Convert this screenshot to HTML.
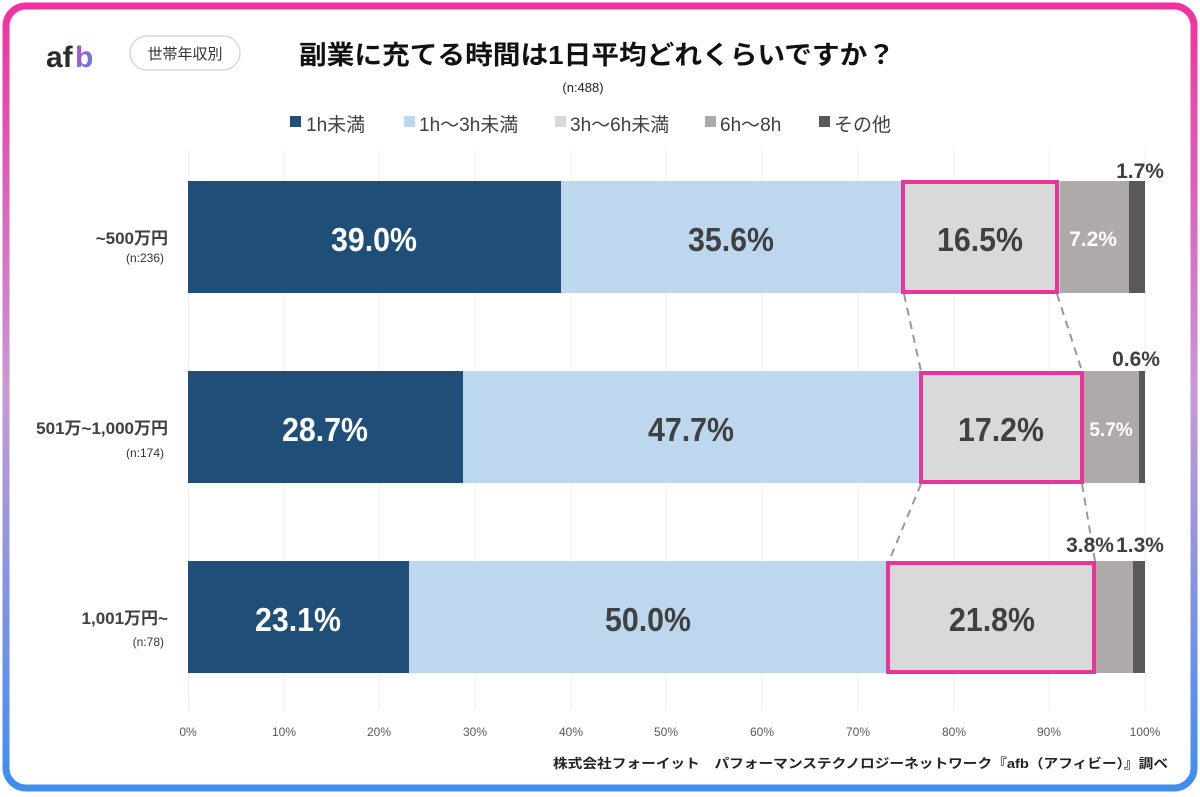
<!DOCTYPE html>
<html><head><meta charset="utf-8"><style>
html,body{margin:0;padding:0;background:#fff;}
svg{display:block;}
text{font-family:"Liberation Sans","Noto Sans CJK JP",sans-serif;}
</style></head><body>
<svg width="1200" height="797" viewBox="0 0 1200 797" xmlns="http://www.w3.org/2000/svg">
<defs>
<linearGradient id="bd" x1="0" y1="0" x2="0" y2="1">
<stop offset="0" stop-color="#f0329e"/><stop offset="0.5" stop-color="#c79ad4"/><stop offset="1" stop-color="#3f8ef0"/>
</linearGradient>
<linearGradient id="lg" x1="0" y1="0" x2="1" y2="1">
<stop offset="0" stop-color="#d43fc0"/><stop offset="1" stop-color="#3f8ef0"/>
</linearGradient>
</defs>
<rect x="0" y="0" width="1200" height="797" fill="#fff"/>
<rect x="6" y="6" width="1188" height="782" rx="20" fill="none" stroke="url(#bd)" stroke-width="7"/>
<!-- logo -->
<text x="46" y="67" font-size="30" font-weight="bold" fill="#2b2b2b">af</text>
<text x="75" y="67" font-size="30" font-weight="bold" fill="url(#lg)">b</text>
<rect x="130" y="36" width="110" height="34" rx="17" fill="#fff" stroke="#d8d8d8" stroke-width="1.5"/>
<text x="185" y="59" font-size="15" fill="#333" text-anchor="middle">世帯年収別</text>
<!-- title -->
<text x="597" y="64" font-size="26" font-weight="bold" fill="#111" text-anchor="middle" textLength="596" lengthAdjust="spacingAndGlyphs">副業に充てる時間は1日平均どれくらいですか？</text>
<text x="583" y="92" font-size="13" fill="#222" text-anchor="middle">(n:488)</text>
<!-- legend -->
<g font-size="19" fill="#404040">
<rect x="290" y="116" width="11" height="11" fill="#1f4e79"/><text x="306" y="131">1h未満</text>
<rect x="404" y="116" width="11" height="11" fill="#bdd7ee"/><text x="419" y="131">1h～3h未満</text>
<rect x="555" y="116" width="11" height="11" fill="#d9d9d9"/><text x="570" y="131">3h～6h未満</text>
<rect x="705" y="116" width="11" height="11" fill="#aeaaaa"/><text x="720" y="131">6h～8h</text>
<rect x="819" y="116" width="11" height="11" fill="#595959"/><text x="834" y="131">その他</text>
</g>
<!-- gridlines -->
<g stroke="#ececec" stroke-width="1">
<line x1="188.5" y1="150" x2="188.5" y2="711"/><line x1="284" y1="150" x2="284" y2="711"/><line x1="379" y1="150" x2="379" y2="711"/><line x1="475" y1="150" x2="475" y2="711"/><line x1="571" y1="150" x2="571" y2="711"/><line x1="666" y1="150" x2="666" y2="711"/><line x1="762" y1="150" x2="762" y2="711"/><line x1="858" y1="150" x2="858" y2="711"/><line x1="954" y1="150" x2="954" y2="711"/><line x1="1049" y1="150" x2="1049" y2="711"/><line x1="1145" y1="150" x2="1145" y2="711"/>
</g>
<g font-size="12" fill="#595959" text-anchor="middle">
<text x="188" y="736">0%</text><text x="284" y="736">10%</text><text x="379" y="736">20%</text><text x="475" y="736">30%</text><text x="571" y="736">40%</text><text x="666" y="736">50%</text><text x="762" y="736">60%</text><text x="858" y="736">70%</text><text x="954" y="736">80%</text><text x="1049" y="736">90%</text><text x="1145" y="736">100%</text>
</g>
<!-- bars -->
<g>
<rect x="188" y="181" width="373" height="112" fill="#1f4e79"/>
<rect x="561" y="181" width="341" height="112" fill="#bdd7ee"/>
<rect x="902" y="181" width="158" height="112" fill="#d9d9d9"/>
<rect x="1060" y="181" width="69" height="112" fill="#aeaaaa"/>
<rect x="1129" y="181" width="16" height="112" fill="#595959"/>

<rect x="188" y="371" width="275" height="112" fill="#1f4e79"/>
<rect x="463" y="371" width="456" height="112" fill="#bdd7ee"/>
<rect x="919" y="371" width="165" height="112" fill="#d9d9d9"/>
<rect x="1084" y="371" width="55" height="112" fill="#aeaaaa"/>
<rect x="1139" y="371" width="6" height="112" fill="#595959"/>

<rect x="188" y="561" width="221" height="112" fill="#1f4e79"/>
<rect x="409" y="561" width="479" height="112" fill="#bdd7ee"/>
<rect x="888" y="561" width="208" height="112" fill="#d9d9d9"/>
<rect x="1096" y="561" width="37" height="112" fill="#aeaaaa"/>
<rect x="1133" y="561" width="12" height="112" fill="#595959"/>
</g>
<!-- pink boxes -->
<g fill="none" stroke="#e8359c" stroke-width="4">
<rect x="903" y="182" width="154" height="110"/>
<rect x="921" y="373" width="161" height="109"/>
<rect x="888" y="563" width="206" height="109"/>
</g>
<g stroke="#999" stroke-width="2" stroke-dasharray="8,6">
<line x1="904" y1="294" x2="921" y2="371"/><line x1="1057" y1="294" x2="1082" y2="371"/>
<line x1="921" y1="484" x2="889" y2="561"/><line x1="1082" y1="484" x2="1095" y2="561"/>
</g>
<!-- value labels -->
<g font-size="33" font-weight="bold" text-anchor="middle">
<text x="374" y="251" fill="#fff" textLength="86" lengthAdjust="spacingAndGlyphs">39.0%</text>
<text x="731" y="251" fill="#404040" textLength="86" lengthAdjust="spacingAndGlyphs">35.6%</text>
<text x="980" y="251" fill="#404040" textLength="86" lengthAdjust="spacingAndGlyphs">16.5%</text>
<text x="325" y="441" fill="#fff" textLength="86" lengthAdjust="spacingAndGlyphs">28.7%</text>
<text x="691" y="441" fill="#404040" textLength="86" lengthAdjust="spacingAndGlyphs">47.7%</text>
<text x="1001" y="441" fill="#404040" textLength="86" lengthAdjust="spacingAndGlyphs">17.2%</text>
<text x="298" y="631" fill="#fff" textLength="86" lengthAdjust="spacingAndGlyphs">23.1%</text>
<text x="648" y="631" fill="#404040" textLength="86" lengthAdjust="spacingAndGlyphs">50.0%</text>
<text x="992" y="631" fill="#404040" textLength="86" lengthAdjust="spacingAndGlyphs">21.8%</text>
</g>
<g font-size="21" font-weight="bold">
<text x="1093" y="246" fill="#fff" text-anchor="middle">7.2%</text>
<text x="1111" y="436" fill="#fff" text-anchor="middle" font-size="19">5.7%</text>
<text x="1140" y="178" fill="#404040" text-anchor="middle">1.7%</text>
<text x="1136" y="366" fill="#404040" text-anchor="middle">0.6%</text>
<text x="1090" y="552" fill="#404040" text-anchor="middle">3.8%</text>
<text x="1140" y="552" fill="#404040" text-anchor="middle">1.3%</text>
</g>
<!-- category labels -->
<g fill="#404040" text-anchor="end">
<text x="168" y="244" font-size="17" font-weight="bold">~500万円</text>
<text x="164" y="262" font-size="12" fill="#333">(n:236)</text>
<text x="168" y="434" font-size="17" font-weight="bold">501万~1,000万円</text>
<text x="164" y="457" font-size="12" fill="#333">(n:174)</text>
<text x="168" y="624" font-size="17" font-weight="bold">1,001万円~</text>
<text x="164" y="646" font-size="12" fill="#333">(n:78)</text>
</g>
<text x="553" y="768" font-size="13" font-weight="bold" fill="#222" textLength="615" lengthAdjust="spacingAndGlyphs">株式会社フォーイット　パフォーマンステクノロジーネットワーク『afb（アフィビー）』調べ</text>
</svg>
</body></html>
